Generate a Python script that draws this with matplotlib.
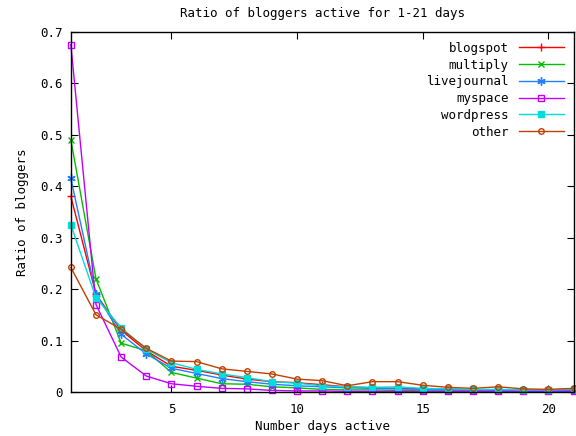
import matplotlib
matplotlib.use("Agg")
import matplotlib.pyplot as plt

days = list(range(1, 22))
blogspot = [0.380, 0.190, 0.120, 0.080, 0.050, 0.042, 0.033, 0.025, 0.020, 0.018, 0.014,
            0.010, 0.008, 0.007, 0.006, 0.005, 0.004, 0.004, 0.003, 0.003, 0.003]
multiply = [0.490, 0.220, 0.095, 0.080, 0.038, 0.027, 0.016, 0.015, 0.010, 0.008, 0.005,
            0.004, 0.004, 0.003, 0.002, 0.002, 0.002, 0.002, 0.002, 0.002, 0.002]
livejournal = [0.415, 0.190, 0.112, 0.074, 0.046, 0.036, 0.026, 0.020, 0.015, 0.012, 0.010,
               0.008, 0.007, 0.006, 0.005, 0.004, 0.004, 0.003, 0.003, 0.003, 0.003]
myspace = [0.675, 0.170, 0.068, 0.031, 0.016, 0.011, 0.007, 0.006, 0.003, 0.002, 0.002,
           0.001, 0.001, 0.001, 0.001, 0.001, 0.001, 0.001, 0.001, 0.001, 0.001]
wordpress = [0.325, 0.183, 0.125, 0.083, 0.057, 0.044, 0.035, 0.028, 0.020, 0.017, 0.012,
             0.010, 0.009, 0.010, 0.007, 0.006, 0.005, 0.005, 0.004, 0.004, 0.005]
other = [0.242, 0.150, 0.122, 0.085, 0.060, 0.059, 0.045, 0.040, 0.035, 0.025, 0.022,
         0.012, 0.020, 0.020, 0.013, 0.009, 0.007, 0.010, 0.006, 0.005, 0.007]

series = [
    ("blogspot", blogspot, "#ff0000", "+", False, 6),
    ("multiply", multiply, "#00c000", "x", False, 5),
    ("livejournal", livejournal, "#2080ff", (6, 2, 0), False, 6),
    ("myspace", myspace, "#c000ff", "s", False, 5),
    ("wordpress", wordpress, "#00dddd", "s", True, 5),
    ("other", other, "#c04000", "o", False, 4),
]

plt.rcParams['font.family'] = ['DejaVu Sans Mono']
fig = plt.figure(figsize=(5.76, 4.36), dpi=100)
ax = fig.add_axes([0.123, 0.101, 0.8727, 0.826])

for name, vals, col, mk, fill, ms in series:
    ax.plot(days, vals, color=col, lw=1.0, marker=mk, markersize=ms,
            markerfacecolor=(col if fill else "none"), markeredgecolor=col,
            markeredgewidth=1.0, label=name, clip_on=False)

ax.set_xlim(1, 21)
ax.set_ylim(0, 0.7)
ax.set_xticks([5, 10, 15, 20])
ax.set_yticks([0, 0.1, 0.2, 0.3, 0.4, 0.5, 0.6, 0.7])
ax.set_yticklabels(["0", "0.1", "0.2", "0.3", "0.4", "0.5", "0.6", "0.7"])
ax.tick_params(direction="in", top=True, right=True, length=5, labelsize=9, pad=6)
ax.tick_params(axis='x', pad=8)
for s in ax.spines.values():
    s.set_linewidth(1.0)

ax.set_title("Ratio of bloggers active for 1-21 days", fontsize=9, pad=11)
ax.set_xlabel("Number days active", fontsize=9, labelpad=3)
ax.set_ylabel("Ratio of bloggers", fontsize=9, labelpad=8)

leg = ax.legend(loc="upper right", frameon=False, markerfirst=False, fontsize=9,
                handlelength=3.6, borderaxespad=0.4, labelspacing=0.3, handletextpad=0.8)

fig.savefig("out.png", dpi=100)
